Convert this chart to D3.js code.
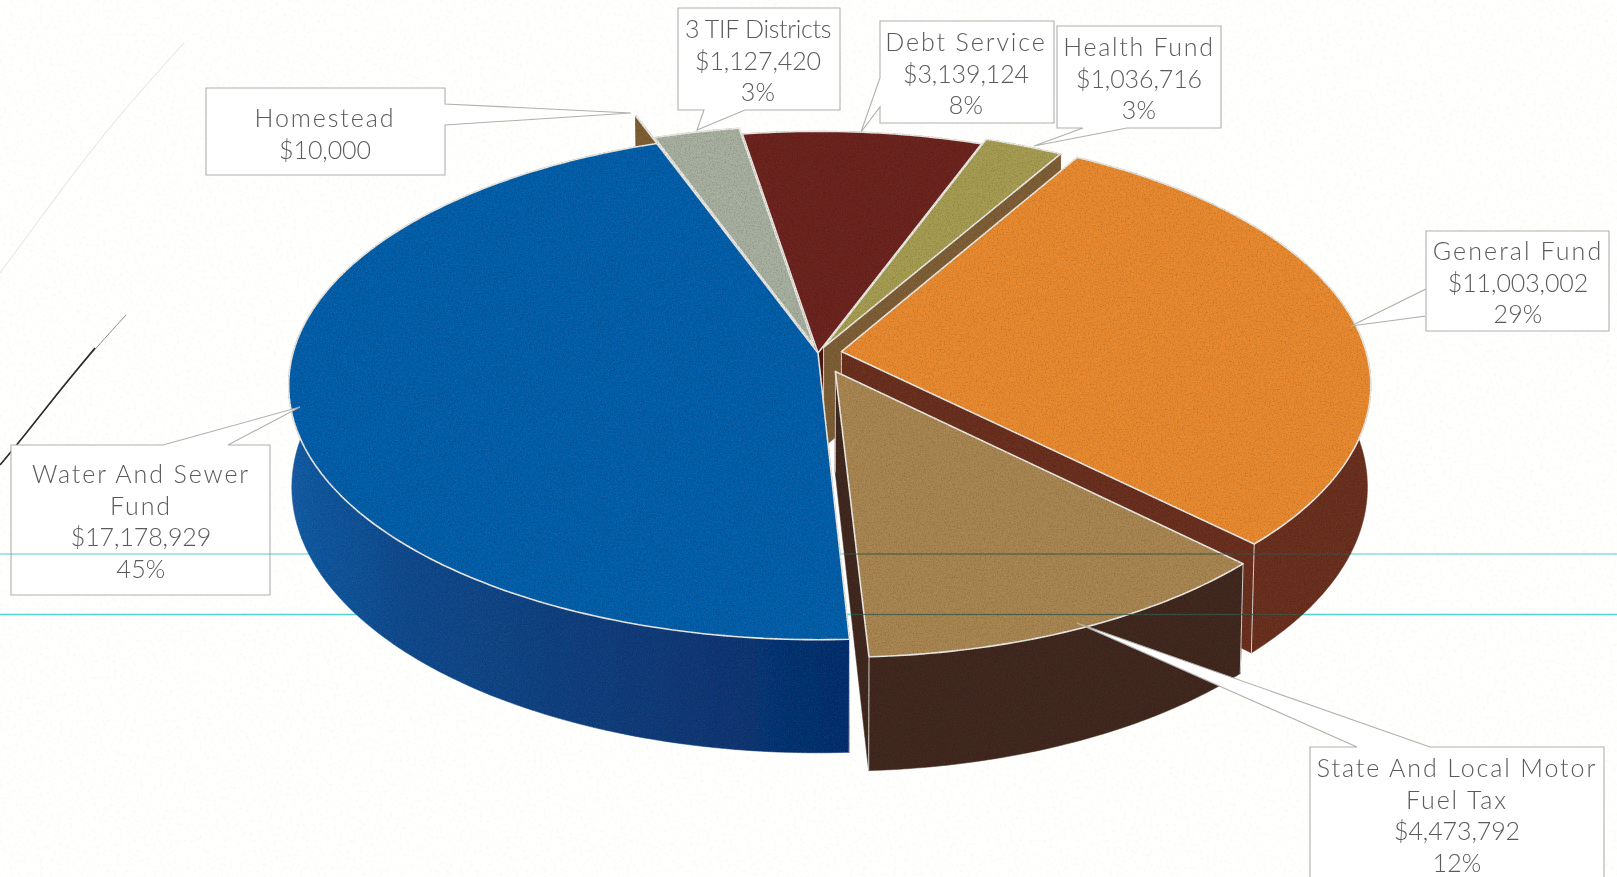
<!DOCTYPE html>
<html><head><meta charset="utf-8">
<script src="https://d3js.org/d3.v7.min.js"></script>
<style>html,body{margin:0;padding:0;background:#fff}svg{display:block}</style>
</head><body><svg id="c" width="1617" height="877"></svg>
<script>
// ---- data
const categories = ["Water And Sewer Fund","Homestead","3 TIF Districts","Debt Service","Health Fund","General Fund","State And Local Motor Fuel Tax"];
const amounts = [17178929,10000,1127420,3139124,1036716,11003002,4473792];
const percentLabels = ["45%","","3%","8%","3%","29%","12%"];
const nameLines = [["Water And Sewer","Fund"],["Homestead"],["3 TIF Districts"],["Debt Service"],["Health Fund"],["General Fund"],["State And Local Motor","Fuel Tax"]];
// ---- styling
const topColors = ["#1061ab","#7f5e30","#a9b1a1","#6e2622","#a79e53","#ea8b31","#aa8752"];
const wallColors = ["url(#blueWall)","#7f6036","#4f4436","#4a1b18","#806038","#6c3023","#432c22"];
const explode = [0,0.15,0.03,0,0.025,0.045,0.08];
const radiusScale = [1,1,1,1,1,1,0.98];
const drawOrder = [3,2,1,4,5,6,"scan",0];
const cornerEdges = [0,5,6];
const nameSpacing = [1.9,1.9,-0.3,1.9,1.7,2.1,1.9];
// ---- callout layout: box [x0,y0,x1,y1], leader tip, two leader feet, text centre x, first line y
const boxes = [[11,445,270,595],[206,88,445,175],[678,8,840,110],[880,21,1054,123],[1057,26,1221,128],[1426,231,1609,331],[1310,747,1604,900]];
const tips = [[300,407],[631,113],[697,130],[861,132],[1034,146],[1351,326],[1077,623]];
const feet = [[[228,445],[163,445]],[[445,125],[445,104]],[[704,110],[745,110]],[[880,107],[880,78]],[[1083,128],[1127,128]],[[1426,289],[1426,316]],[[1430,747],[1357,747]]];
const textCx = [141,325,758,966,1139,1518,1457];
const textY = [473,117,28,41,46,250,767];
const scanLines = [[554,"#8ee0dc"],[614.5,"#52d4cf"]];

const svg = d3.select("#c");
const defs = svg.append("defs");
const grain = defs.append("filter").attr("id","grain").attr("filterUnits","userSpaceOnUse").attr("x",0).attr("y",0).attr("width",1617).attr("height",877);
grain.append("feTurbulence").attr("type","fractalNoise").attr("baseFrequency","0.75").attr("numOctaves",3).attr("seed",4).attr("result","n");
grain.append("feColorMatrix").attr("in","n").attr("type","matrix")
  .attr("values","0 0 0 0 0  0 0 0 0 0  0 0 0 0 0  0 0 0 0.8 -0.33").attr("result","a");
grain.append("feComposite").attr("in","a").attr("in2","SourceAlpha").attr("operator","in").attr("result","t");
grain.append("feMerge").selectAll("feMergeNode").data(["SourceGraphic","t"]).join("feMergeNode").attr("in",d=>d);
const paper = defs.append("filter").attr("id","paper").attr("x",0).attr("y",0).attr("width",1).attr("height",1);
paper.append("feTurbulence").attr("type","fractalNoise").attr("baseFrequency","0.3").attr("numOctaves",4).attr("seed",9);
paper.append("feColorMatrix").attr("type","matrix").attr("values","0 0 0 0 0.80  0 0 0 0 0.80  0 0 0 0 0.45  0 0 0 1.6 -0.78");
const bw = defs.append("linearGradient").attr("id","blueWall").attr("gradientUnits","userSpaceOnUse").attr("x1",290).attr("y1",0).attr("x2",850).attr("y2",0);
bw.selectAll("stop").data([[0,"#1a5ea6"],[0.2,"#154d90"],[0.6,"#143e7c"],[1,"#10326f"]]).join("stop").attr("offset",d=>d[0]).attr("stop-color",d=>d[1]);
const scanClip = defs.append("clipPath").attr("id","scanClip");

svg.append("rect").attr("width",1617).attr("height",877).attr("fill","#fff");
svg.append("rect").attr("width",1617).attr("height",877).attr("fill","#fff").attr("filter","url(#paper)").attr("opacity",0.3);

// stray curves on the scan
const curve = d3.line().curve(d3.curveBasis);
svg.append("path").attr("d",curve([[184,43],[110,125],[50,205],[0,273]])).attr("fill","none").attr("stroke","#e2e2d8").attr("stroke-width",1);
svg.append("path").attr("d",curve([[126,315],[85,360],[45,410],[0,465]])).attr("fill","none").attr("stroke","#8a8a84").attr("stroke-width",1);
svg.append("path").attr("d",curve([[95,348],[60,390],[25,435],[0,465]])).attr("fill","none").attr("stroke","#2a2a28").attr("stroke-width",1.6);

const scanRect = (sel,x,w,[y,col]) => sel.append("rect").attr("x",x).attr("y",y-0.75).attr("width",w).attr("height",1.5).attr("fill",col).style("mix-blend-mode","multiply");
scanLines.forEach(l=>scanRect(svg,0,1617,l));

// ---- projection
const k = 0.128, m = 0.006;
const xS = d3.scaleLinear().domain([-1,1]).range([818-525,818+525]);
const yS = d3.scaleLinear().domain([-1,1]).range([353-250,353+250]);
const zS = d3.scaleLinear().domain([0,1]).range([0,101]);
function project(u,v,z){
  const D = 1 - k*v + m*z;
  return [xS(u/D), yS(v/D) + zS(z)/D];
}
const rad = d => d*Math.PI/180;
const startDeg = 177;
const arcs = d3.pie().sort(null).startAngle(rad(startDeg)).endAngle(rad(startDeg+360))(amounts);

const pieG = svg.append("g").attr("filter","url(#grain)");
const path = d3.line();
function slicePts(a,i){
  const mid=(a.startAngle+a.endAngle)/2, e=explode[i], r=radiusScale[i];
  const ox=e*Math.sin(mid), oy=-e*Math.cos(mid);
  const n=Math.max(2,Math.ceil((a.endAngle-a.startAngle)/rad(1)));
  const ang=d3.range(n+1).map(j=>a.startAngle+(a.endAngle-a.startAngle)*j/n);
  const rim=z=>ang.map(t=>project(ox+r*Math.sin(t),oy-r*Math.cos(t),z));
  const apex=z=>project(ox,oy,z);
  return {rim,apex};
}
drawOrder.forEach(i=>{
  if(i==="scan"){
    const sg=pieG.append("g").attr("clip-path","url(#scanClip)");
    scanLines.forEach(([y])=>sg.append("rect").attr("x",0).attr("y",y-0.6).attr("width",1617).attr("height",1.2).attr("fill","#3d5a48").attr("opacity",0.8));
    return;
  }
  const s=slicePts(arcs[i],i), top=s.rim(0), bot=s.rim(1), a0=s.apex(0), a1=s.apex(1);
  const g=pieG.append("g");
  const wall=pts=>g.append("path").attr("d",path(pts)+"Z").attr("fill",wallColors[i]).attr("stroke",wallColors[i]).attr("stroke-width",0.5);
  const faces=[[a0,top[0],bot[0],a1],[a0,top[top.length-1],bot[bot.length-1],a1],top.concat(bot.slice().reverse())];
  faces.forEach(wall);
  const verticals=[[a0,a1]];
  if(cornerEdges.includes(i)) verticals.push([top[0],bot[0]],[top[top.length-1],bot[bot.length-1]]);
  verticals.forEach(e=>g.append("path").attr("d",path(e)).attr("stroke","#d9d6cf").attr("stroke-width",1).attr("fill","none"));
  const topFace=[a0].concat(top);
  g.append("path").attr("d",path(topFace)+"Z").attr("fill",topColors[i]).attr("stroke","#ecebe5").attr("stroke-width",1.6).attr("stroke-linejoin","round");
  if(i===5||i===6) faces.concat([topFace]).forEach(f=>scanClip.append("path").attr("d",path(f)+"Z"));
});

// ---- callouts
const money = d3.format("$,");
const outline = d3.line();
categories.forEach((c,i)=>{
  const [x0,y0,x1,y1]=boxes[i], t=tips[i], [f0,f1]=feet[i];
  let pts;
  if(f0[1]===y0) pts=[[x0,y0],f1,t,f0,[x1,y0],[x1,y1],[x0,y1]];
  else if(f0[1]===y1) pts=[[x0,y0],[x1,y0],[x1,y1],f1,t,f0,[x0,y1]];
  else if(f0[0]===x1) pts=[[x0,y0],[x1,y0],f1,t,f0,[x1,y1],[x0,y1]];
  else pts=[[x0,y0],[x1,y0],[x1,y1],[x0,y1],f0,t,f1];
  svg.append("path").attr("d",outline(pts)+"Z").attr("fill","#fff").attr("stroke","#b0b0ac").attr("stroke-width",1.1);
  const lines=nameLines[i].map(t=>[t,nameSpacing[i]]).concat([[money(amounts[i]),-0.1]]).concat(percentLabels[i]?[[percentLabels[i],0.2]]:[]);
  svg.append("g").selectAll("text").data(lines).join("text")
    .attr("x",textCx[i]).attr("y",(d,j)=>textY[i]+j*31.5).attr("text-anchor","middle").attr("dominant-baseline","central")
    .attr("font-family","Lato, 'Open Sans', sans-serif").attr("font-weight",300).attr("font-size",25).attr("letter-spacing",d=>d[1]).attr("fill","#5a5a5a").text(d=>d[0]);
});
// the scan line shows through the water-fund box
scanRect(svg,boxes[0][0],boxes[0][2]-boxes[0][0],scanLines[0]);
</script></body></html>
